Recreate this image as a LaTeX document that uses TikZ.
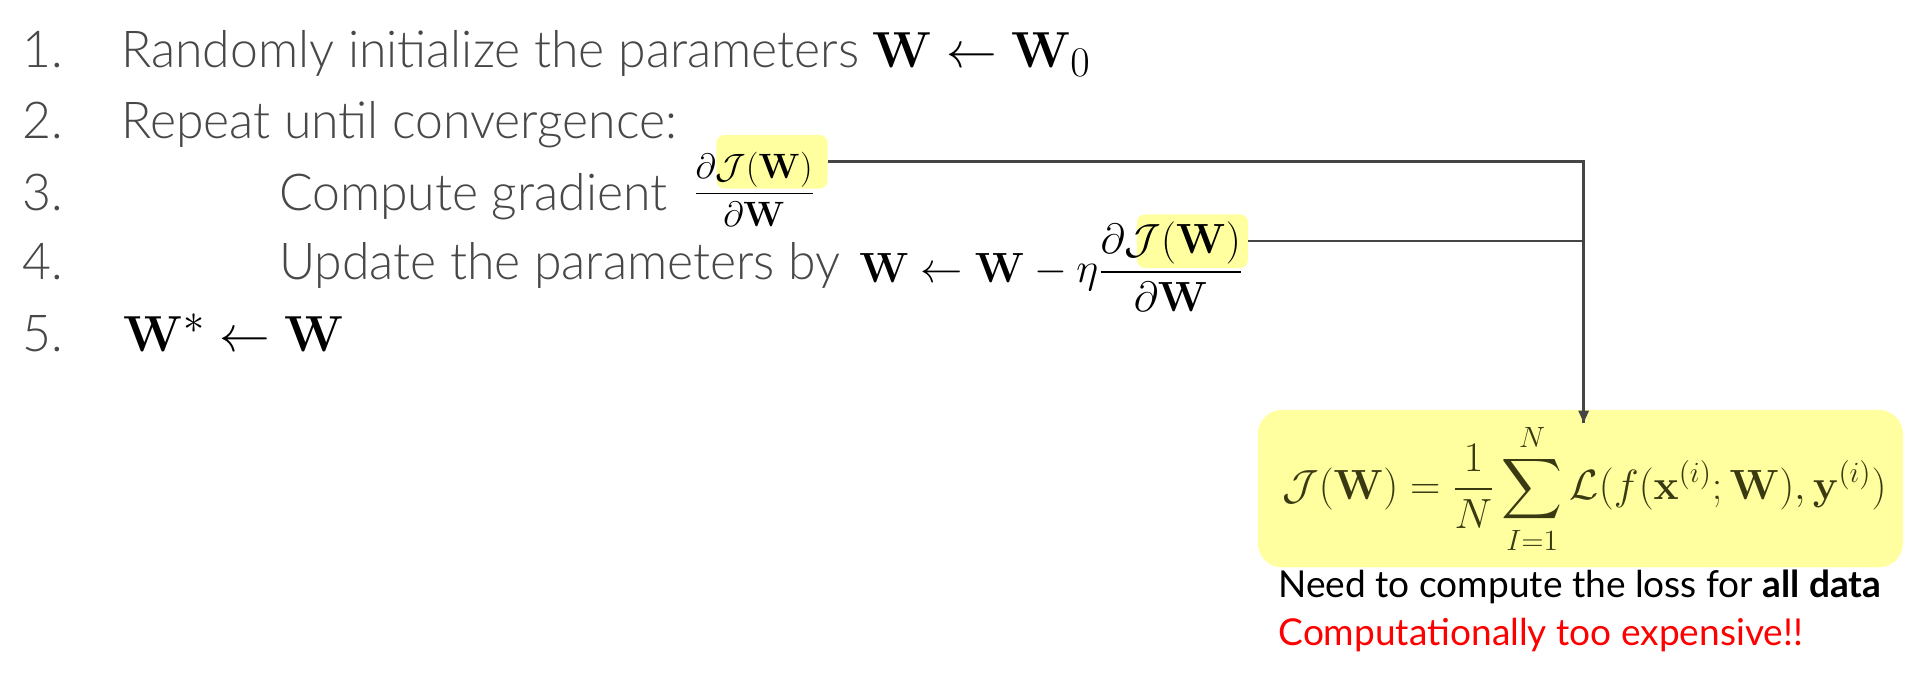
\documentclass[tikz,border=0pt]{standalone}
\usepackage{amsmath}
\usepackage{graphicx}
\usepackage[no-math]{fontspec}
\setmainfont{Lato}[UprightFont={* Light},BoldFont={* Bold},FakeStretch=0.98]
\newfontfamily\latoreg{Lato}[BoldFont={* Bold}]
\usetikzlibrary{arrows.meta}
\definecolor{txt}{HTML}{484848}
\definecolor{hl}{HTML}{FFFFA0}
\definecolor{lin}{HTML}{454545}
\definecolor{olive}{HTML}{3A3A12}
\tikzset{
  x=0.6pt, y=-0.6pt,
  num/.style={anchor=base east, inner sep=0pt, text=txt, font=\fontsize{25}{30}\selectfont},
  item/.style={anchor=base west, inner sep=0pt, text=txt, font=\fontsize{25}{30}\selectfont},
  note/.style={anchor=base west, inner sep=0pt, font=\latoreg\fontsize{18.2}{22}\selectfont},
  mth/.style={inner sep=0pt, font=\fontsize{22}{26}\selectfont},
  bigmth/.style={inner sep=0pt, font=\fontsize{27.5}{32}\selectfont},
  hlbox/.style={fill=hl, draw=none, rounded corners=4pt, inner sep=0pt},
  conn/.style={draw=lin, line width=1.2pt},
}
\begin{document}
\begin{tikzpicture}
\useasboundingbox (0,0) rectangle (1568,552.4);
% highlights
\node[hlbox, minimum width=91*0.6pt, minimum height=44*0.6pt, anchor=north west] (h1) at (586,110) {};
\node[hlbox, minimum width=91*0.6pt, minimum height=44*0.6pt, anchor=north west] (h2) at (930,175) {};
% loss box
\node[fill=hl, rounded corners=12pt, minimum width=528*0.6pt, minimum height=129*0.6pt, anchor=north west, inner sep=0pt] (box) at (1029,335) {};
\node[mth, text=olive] (loss) at ([xshift=2pt]box.center) {$\displaystyle \mathcal{J}(\mathbf{W}) = \frac{1}{N}\sum_{I=1}^{N}\mathcal{L}(f(\mathbf{x}^{(i)};\mathbf{W}),\mathbf{y}^{(i)})$};
% list
\node[num] (n1) at (52,55) {1.};
\node[num] (n2) at (52,113) {2.};
\node[num] (n3) at (52,172) {3.};
\node[num] (n4) at (52,229) {4.};
\node[num] (n5) at (52,288) {5.};
\node[item] (t1) at (99,55) {Randomly initialize the parameters};
\node[item] (t2) at (99,113) {Repeat until convergence:};
\node[item] (t3) at (228,172) {Compute gradient};
\node[item] (t4) at (228,229) {Update the parameters by};
\node[bigmth, anchor=base west] (m1) at (714,55) {$\mathbf{W}\leftarrow\mathbf{W}_0$};
\node[mth, anchor=west, font=\fontsize{19}{23}\selectfont] (m3) at (567,155) {$\dfrac{\partial\mathcal{J}(\mathbf{W})}{\partial\mathbf{W}}$};
\node[mth, anchor=base west] (m4) at (703,231) {$\mathbf{W}\leftarrow\mathbf{W}-\eta\dfrac{\partial\mathcal{J}(\mathbf{W})}{\partial\mathbf{W}}$};
\node[bigmth, anchor=base west] (m5) at (101,288) {$\mathbf{W}^{*}\leftarrow\mathbf{W}$};
% connectors
\coordinate (xc) at (1296,0);
\coordinate (tip) at (1296,346);
\draw[conn] (h1.east) -- (h1.east -| xc) -- (tip);
\draw[conn] (h2.east) -- (h2.east -| xc);
\draw[conn, -{Triangle[length=6pt,width=5pt]}] (1296,330) -- (tip);
% notes
\node[note, text=black] (need) at (1046,489) {Need to compute the loss for \textbf{all data}};
\node[note, text=red] (exp) at (1046,528) {Computationally too expensive!!};
\end{tikzpicture}
\end{document}
